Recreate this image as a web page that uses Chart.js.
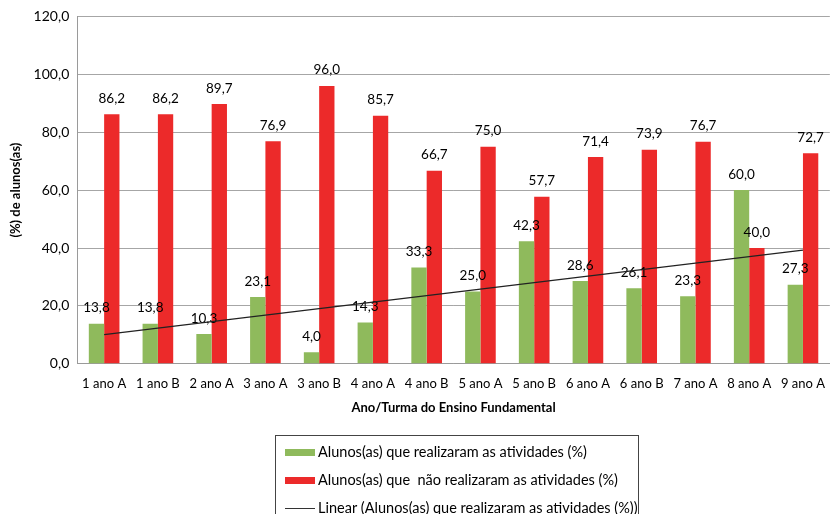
<!DOCTYPE html>
<html>
<head>
<meta charset="utf-8">
<script src="https://cdn.jsdelivr.net/npm/chart.js@4.4.1/dist/chart.umd.min.js"></script>
<style>
  html, body { margin: 0; padding: 0; background: #fff; }
  #wrap { width: 837px; height: 514px; position: relative; }
</style>
</head>
<body>
<div id="wrap"><canvas id="turmasChart"></canvas></div>
<script>
// Turmas do Ensino Fundamental
const turmas = ['1 ano A', '1 ano B', '2 ano A', '3 ano A', '3 ano B', '4 ano A', '4 ano B',
    '5 ano A', '5 ano B', '6 ano A', '6 ano B', '7 ano A', '8 ano A', '9 ano A'];
// % de alunos que realizaram as atividades
const realizaram = [13.8, 13.8, 10.3, 23.1, 4.0, 14.3, 33.3, 25.0, 42.3, 28.6, 26.1, 23.3, 60.0, 27.3];
// % de alunos que não realizaram
const naoRealizaram = [86.2, 86.2, 89.7, 76.9, 96.0, 85.7, 66.7, 75.0, 57.7, 71.4, 73.9, 76.7, 40.0, 72.7];

const labelRealizaram = 'Alunos(as) que realizaram as atividades (%)';
const labelNao = 'Alunos(as) que  não realizaram as atividades (%)';
const labelLinear = 'Linear (Alunos(as) que realizaram as atividades (%))';

const VERDE = '#8fba5c';
const VERMELHO = '#ec2a2a';
const FONTE = 'Lato, "Open Sans", sans-serif';

// linha de tendência (mínimos quadrados) sobre a série "realizaram"
function tendenciaLinear(ys) {
    const n = ys.length;
    let sx = 0, sy = 0, sxy = 0, sxx = 0;
    ys.forEach((y, i) => {
        const x = i + 1;
        sx += x; sy += y; sxy += x * y; sxx += x * x;
    });
    const b = (n * sxy - sx * sy) / (n * sxx - sx * sx);
    const a = (sy - b * sx) / n;
    return ys.map((_, i) => a + b * (i + 1));
}
const tendencia = tendenciaLinear(realizaram);

const fmt = v => v.toFixed(1).replace('.', ',');

// rótulos de valor acima das barras, desenhados antes da linha de tendência
const rotulosPlugin = {
    id: 'rotulos',
    beforeDatasetDraw(chart, args) {
        if (args.index !== 2) return;
        const ctx = chart.ctx;
        ctx.save();
        ctx.font = '13.5px ' + FONTE;
        ctx.fillStyle = '#000';
        ctx.textAlign = 'center';
        ctx.textBaseline = 'bottom';
        [0, 1].forEach(di => {
            const meta = chart.getDatasetMeta(di);
            meta.data.forEach((bar, i) => {
                ctx.fillText(fmt(chart.data.datasets[di].data[i]), bar.x, bar.y - 9);
            });
        });
        ctx.restore();
    }
};

// legenda em caixa, um item por linha
const legendaPlugin = {
    id: 'legendaCaixa',
    afterDraw(chart) {
        const ctx = chart.ctx;
        const x0 = 275, y0 = 435, w = 363, h = 90;
        ctx.save();
        ctx.strokeStyle = '#444';
        ctx.lineWidth = 1;
        ctx.strokeRect(x0 + 0.5, y0 + 0.5, w, h);
        ctx.font = '14.5px ' + FONTE;
        ctx.fillStyle = '#000';
        ctx.textBaseline = 'middle';
        chart.data.datasets.forEach((ds, i) => {
            const y = y0 + 17 + i * 28;
            if (ds.type === 'line') {
                ctx.strokeStyle = '#333';
                ctx.beginPath();
                ctx.moveTo(285, y + 0.5);
                ctx.lineTo(315, y + 0.5);
                ctx.stroke();
            } else {
                ctx.fillStyle = ds.backgroundColor;
                ctx.fillRect(285, y - 3, 30, 7);
            }
            ctx.fillStyle = '#000';
            ctx.fillText(ds.label, 318, y);
        });
        ctx.restore();
    }
};

new Chart(document.getElementById('turmasChart'), {
    type: 'bar',
    data: {
        labels: turmas,
        datasets: [
            { label: labelRealizaram, data: realizaram, backgroundColor: VERDE, order: 1,
              barPercentage: 1, categoryPercentage: 0.57 },
            { label: labelNao, data: naoRealizaram, backgroundColor: VERMELHO, order: 1,
              barPercentage: 1, categoryPercentage: 0.57 },
            { type: 'line', label: labelLinear, data: tendencia, borderColor: '#222',
              borderWidth: 1.2, pointRadius: 0, fill: false, order: 0 }
        ]
    },
    options: {
        responsive: true,
        maintainAspectRatio: false,
        animation: false,
        layout: { padding: { left: 4, right: 0, top: 14, bottom: 94 } },
        scales: {
            x: {
                grid: { display: false, drawTicks: false },
                border: { color: '#9a9a9a' },
                ticks: { color: '#000', font: { family: FONTE, size: 13 }, padding: 12, maxRotation: 0 },
                title: { display: true, text: 'Ano/Turma do Ensino Fundamental', color: '#000',
                         font: { family: FONTE, size: 13, weight: 'bold' }, padding: { top: -3 } }
            },
            y: {
                min: 0, max: 120,
                grid: { color: '#a6a6a6', drawTicks: false },
                border: { color: '#9a9a9a' },
                ticks: { stepSize: 20, color: '#000', font: { family: FONTE, size: 14 }, padding: 8,
                         callback: v => fmt(v) },
                title: { display: true, text: '(%) de alunos(as)', color: '#000',
                         font: { family: FONTE, size: 13, weight: 'bold' }, padding: { bottom: 2 } }
            }
        },
        plugins: {
            legend: { display: false },
            tooltip: { enabled: false }
        }
    },
    plugins: [rotulosPlugin, legendaPlugin]
});
</script>
</body>
</html>
